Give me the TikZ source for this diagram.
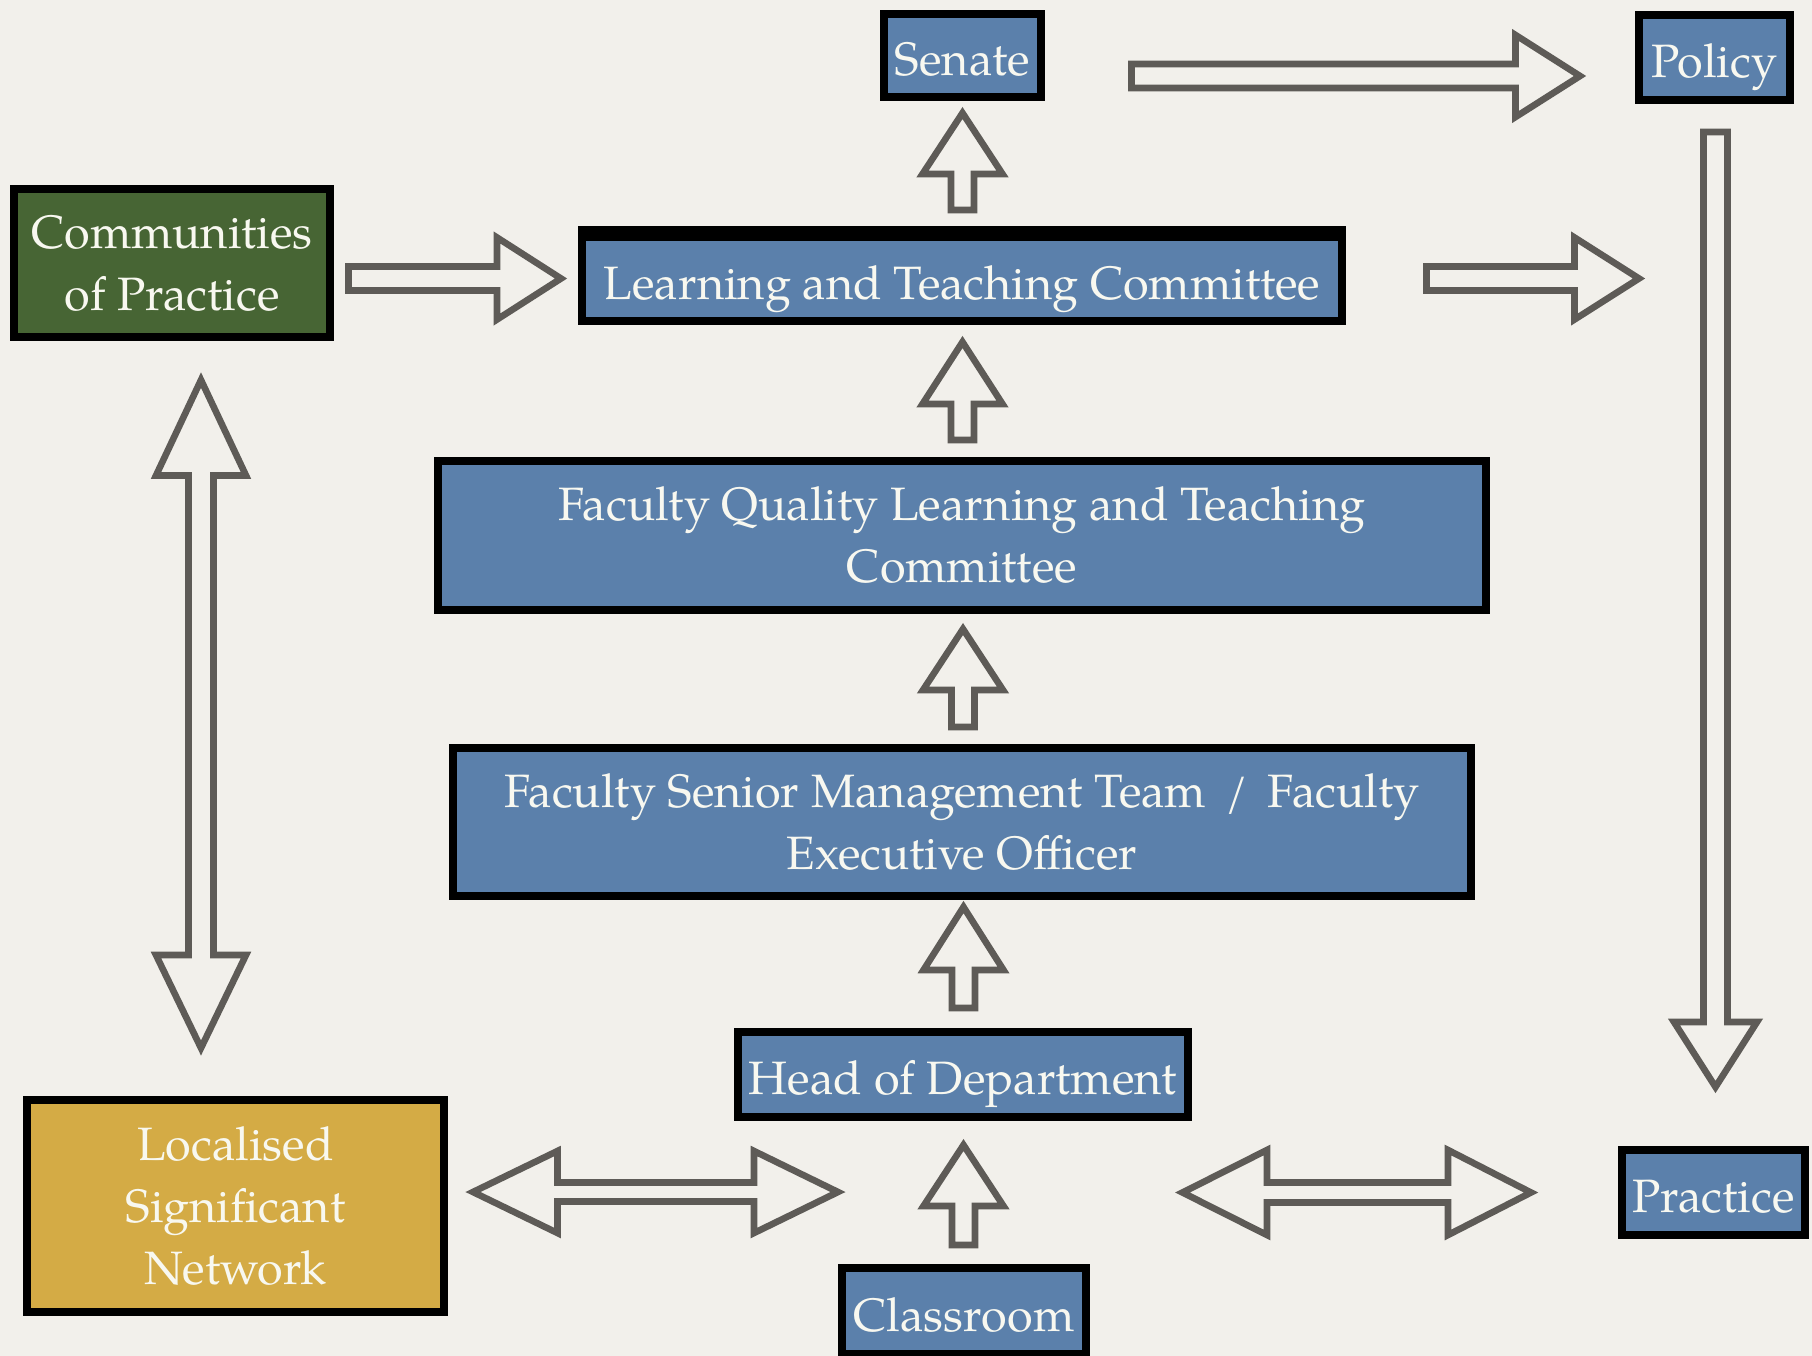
\documentclass[tikz,border=0pt]{standalone}
\usepackage{fontspec}
\setmainfont{TeX Gyre Pagella}
\definecolor{bg}{HTML}{F2F0EB}
\definecolor{boxblue}{HTML}{5B80AB}
\definecolor{boxgreen}{HTML}{476534}
\definecolor{boxgold}{HTML}{D4AB45}
\definecolor{arrowgray}{HTML}{5E5B57}
\definecolor{txt}{HTML}{F8F8F0}
\tikzset{
  box/.style={draw=black, line width=4pt, rectangle, inner sep=0pt,
    text=txt, align=center, font=\fontsize{23.4}{31}\selectfont},
  oneline/.style={text height=20pt, text depth=0pt},
  bluebox/.style={box, fill=boxblue},
  blockarrow/.style={draw=arrowgray, line width=3.3pt, line join=miter}
}
% right-pointing block arrow: start x, head base x, tip x, centre y, shaft half, head half
\newcommand\rArrowShape[6]{%
  \draw[blockarrow] (#1,#4-#5) -- (#2,#4-#5) -- (#2,#4-#6) -- (#3,#4) -- (#2,#4+#6) -- (#2,#4+#5) -- (#1,#4+#5) -- cycle;}
% vertical block arrow: centre x, start y, head base y, tip y, shaft half, head half
\newcommand\vArrowShape[6]{%
  \draw[blockarrow] (#1-#5,#2) -- (#1-#5,#3) -- (#1-#6,#3) -- (#1,#4) -- (#1+#6,#3) -- (#1+#5,#3) -- (#1+#5,#2) -- cycle;}
% horizontal double block arrow: left tip, left base, right base, right tip, centre y, shaft half, head half
\newcommand\hDoubleShape[7]{%
  \draw[blockarrow] (#1,#5) -- (#2,#5-#7) -- (#2,#5-#6) -- (#3,#5-#6) -- (#3,#5-#7) -- (#4,#5) -- (#3,#5+#7) -- (#3,#5+#6) -- (#2,#5+#6) -- (#2,#5+#7) -- cycle;}
% vertical double block arrow: top tip, top base, bottom base, bottom tip, centre x, shaft half, head half
\newcommand\vDoubleShape[7]{%
  \draw[blockarrow] (#5,#1) -- (#5-#7,#2) -- (#5-#6,#2) -- (#5-#6,#3) -- (#5-#7,#3) -- (#5,#4) -- (#5+#7,#3) -- (#5+#6,#3) -- (#5+#6,#2) -- (#5+#7,#2) -- cycle;}
\begin{document}
\begin{tikzpicture}[x=0.5pt, y=-0.5pt]
\useasboundingbox (0,0) rectangle (1812,1356);
\fill[bg] (0,0) rectangle (1812,1356);

% boxes
\node[bluebox, oneline, minimum width=78.5pt, minimum height=41.5pt] (senate) at (962.5,55.5) {Senate};
\node[bluebox, oneline, minimum width=75.5pt, minimum height=42.5pt] (policy) at (1714.5,57.5) {Policy};
\node[box, fill=boxgreen, minimum width=158pt, minimum height=74pt] (cop) at (172,263) {Communities\\of Practice};
\node[bluebox, oneline, minimum width=380pt, minimum height=42pt] (ltc) at (962,279) {Learning and Teaching Committee};
\fill[black] (578,226) rectangle (1346,237);
\node[bluebox, minimum width=524pt, minimum height=74.5pt] (fqltc) at (962,535) {Faculty Quality Learning and Teaching\\Committee};
\node[bluebox, minimum width=509pt, minimum height=74pt] (fsmt) at (962,822) {Faculty Senior Management Team \,/\, Faculty\\Executive Officer};
\node[bluebox, oneline, minimum width=225pt, minimum height=42.5pt] (hod) at (963,1074.5) {Head of Department};
\node[box, fill=boxgold, minimum width=208.5pt, minimum height=106pt] (lsn) at (235.5,1206) {Localised\\Significant\\Network};
\node[bluebox, oneline, minimum width=122pt, minimum height=43pt] (class) at (964,1311) {Classroom};
\node[bluebox, oneline, minimum width=91.5pt, minimum height=42.5pt] (practice) at (1713.5,1192.5) {Practice};

% horizontal right arrows
\rArrowShape{348.5}{497}{561}{278.5}{12}{41}
\rArrowShape{1426.5}{1574.5}{1639}{278.5}{12}{41}
\rArrowShape{1131.5}{1515.5}{1580}{76}{12}{41}

% up arrows in the central column
\vArrowShape{962.5}{210}{174}{113}{11.5}{40}
\vArrowShape{962.5}{440}{404}{342}{11.5}{40}
\vArrowShape{963}{727}{690}{629}{11.5}{40}
\vArrowShape{963.5}{1008}{970}{907}{11.5}{40}
\vArrowShape{963.5}{1245}{1206}{1145}{11.5}{40}

% policy down to practice
\vArrowShape{1715.5}{132}{1022}{1087}{12}{41.5}

% left vertical double arrow
\vDoubleShape{380}{475.5}{955}{1048}{201}{12.5}{45}

% bottom horizontal double arrows
\hDoubleShape{473}{557.5}{754}{838}{1192}{9.5}{41}
\hDoubleShape{1182.5}{1267}{1448}{1531}{1192.5}{10}{42.5}
\end{tikzpicture}
\end{document}
